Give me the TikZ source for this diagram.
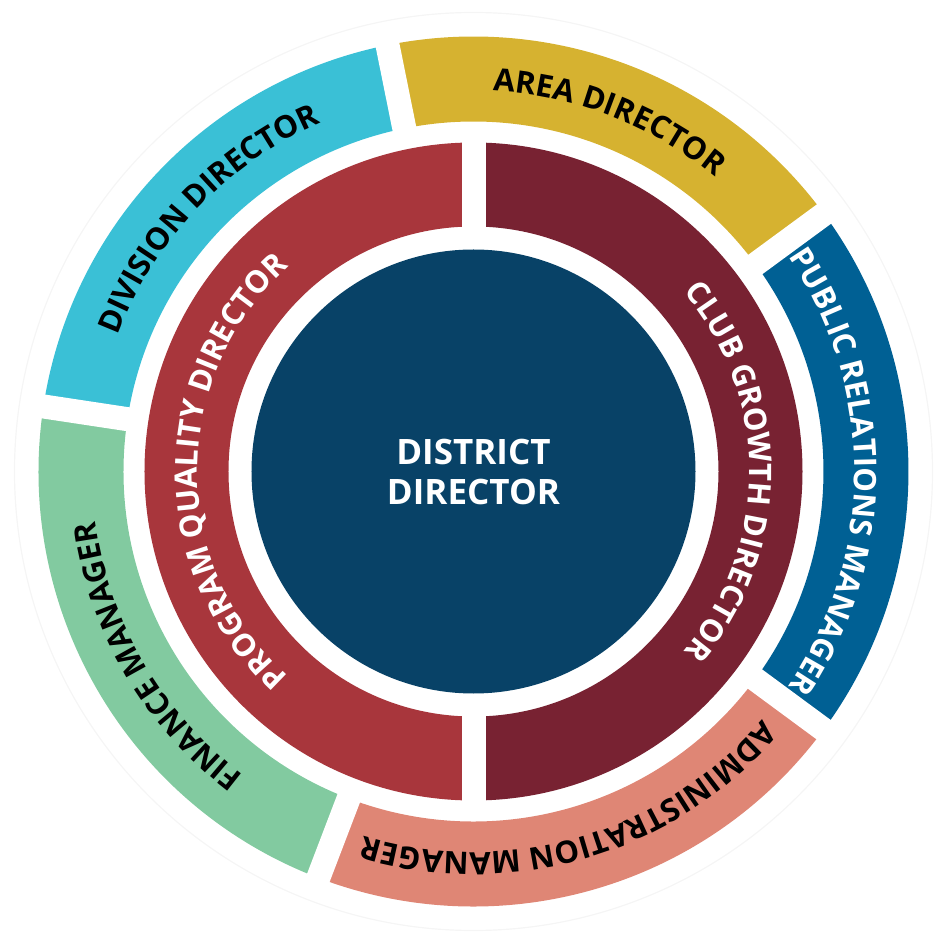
\documentclass[tikz,border=0pt]{standalone}
\usepackage{fontspec}
\setmainfont{Open Sans}
\usetikzlibrary{decorations.text}

\definecolor{areagold}{RGB}{214,178,48}
\definecolor{divcyan}{RGB}{58,192,214}
\definecolor{fingreen}{RGB}{130,202,160}
\definecolor{adminsalmon}{RGB}{223,134,117}
\definecolor{prblue}{RGB}{0,96,148}
\definecolor{pqdred}{RGB}{168,54,60}
\definecolor{cgdred}{RGB}{120,34,50}
\definecolor{ddnavy}{RGB}{8,66,103}

\tikzset{
    ringtext/.style 2 args={decorate, decoration={text along path, text align=center,
        text color=#1, text={|\bfseries\fontsize{31}{31}\selectfont|#2}}},
}

\begin{document}
\begin{tikzpicture}[x=1pt,y=1pt]
    %Ramme
        \useasboundingbox (-473.5,-475.5) rectangle (473.5,471.5);
        \draw[black!4, line width=1.2] (0,0) circle (459);

    %Ytre ring
        \fill[prblue] (-36.4:350) arc[start angle=-36.4, end angle=36.3, radius=350] -- (36.3:435) arc[start angle=36.3, end angle=-36.4, radius=435] -- cycle;
        \fill[areagold] (36.3:350) arc[start angle=36.3, end angle=101.4, radius=350] -- (101.4:435) arc[start angle=101.4, end angle=36.3, radius=435] -- cycle;
        \fill[divcyan] (101.4:350) arc[start angle=101.4, end angle=171.4, radius=350] -- (171.4:435) arc[start angle=171.4, end angle=101.4, radius=435] -- cycle;
        \fill[fingreen] (171.4:350) arc[start angle=171.4, end angle=249.1, radius=350] -- (249.1:435) arc[start angle=249.1, end angle=171.4, radius=435] -- cycle;
        \fill[adminsalmon] (249.1:350) arc[start angle=249.1, end angle=323.6, radius=350] -- (323.6:435) arc[start angle=323.6, end angle=249.1, radius=435] -- cycle;
        %
        \draw[white, line width=24] (0,0)--(36.3:445);
        \draw[white, line width=24] (0,0)--(101.4:445);
        \draw[white, line width=24] (0,0)--(171.4:445);
        \draw[white, line width=24] (0,0)--(249.1:445);
        \draw[white, line width=24] (0,0)--(323.6:445);

    %Mellomring
        \fill[pqdred] (90:245) arc[start angle=90, end angle=270, radius=245] -- (270:329) arc[start angle=270, end angle=90, radius=329] -- cycle;
        \fill[cgdred] (-90:245) arc[start angle=-90, end angle=90, radius=245] -- (90:329) arc[start angle=90, end angle=-90, radius=329] -- cycle;
        \draw[white, line width=24] (90:340)--(270:340);

    %Sirkel
        \node[circle, fill=ddnavy, minimum size=444, inner sep=0, text=white, align=center,
            font=\bfseries\fontsize{35}{40}\selectfont] (district) at (0,0) {DISTRICT\\DIRECTOR};

    %Tekst
        \path[ringtext={black}{AREA DIRECTOR}] (118.85:381) arc[start angle=118.85, end angle=18.85, radius=381];
        \path[ringtext={black}{DIVISION DIRECTOR}] (186.4:381) arc[start angle=186.4, end angle=86.4, radius=381];
        \path[ringtext={black}{FINANCE MANAGER}] (260.25:381) arc[start angle=260.25, end angle=160.25, radius=381];
        \path[ringtext={black}{ADMINISTRATION MANAGER}] (336.35:381) arc[start angle=336.35, end angle=236.35, radius=381];
        \path[ringtext={white}{PUBLIC RELATIONS MANAGER}] (50:381) arc[start angle=50, end angle=-50, radius=381];
        %
        \path[ringtext={white}{PROGRAM QUALITY DIRECTOR}] (240:276) arc[start angle=240, end angle=120, radius=276];
        \path[ringtext={white}{CLUB GROWTH DIRECTOR}] (60:276) arc[start angle=60, end angle=-60, radius=276];
\end{tikzpicture}
\end{document}
